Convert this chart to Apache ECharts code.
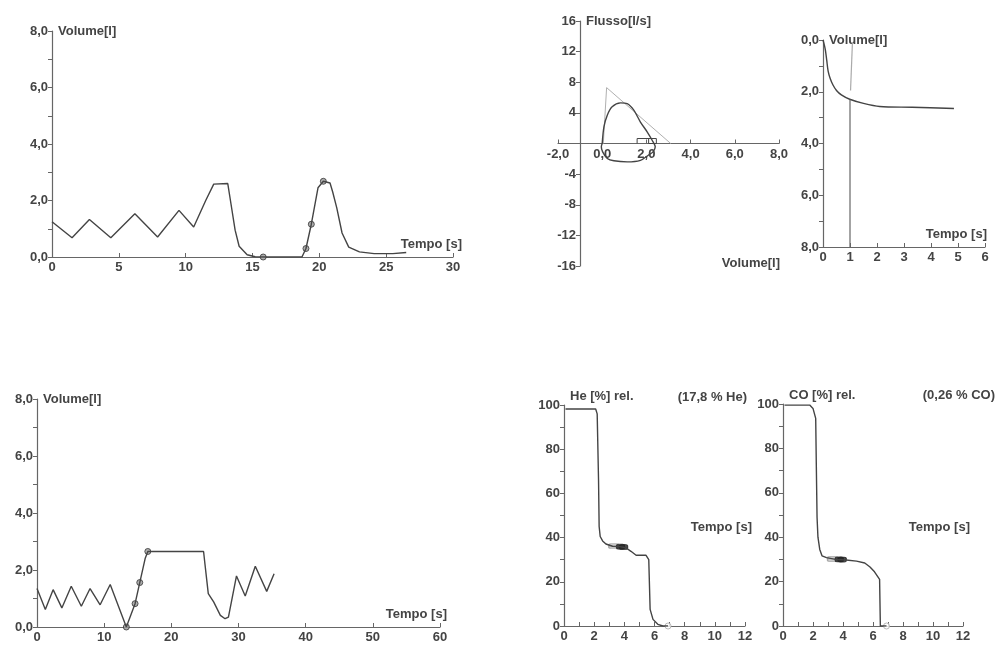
<!DOCTYPE html>
<html>
<head>
<meta charset="utf-8">
<script src="https://cdn.jsdelivr.net/npm/echarts@6/dist/echarts.min.js"></script>
<style>
  html, body { margin: 0; padding: 0; background: #fff; }
  #chart { width: 997px; height: 646px; }
</style>
</head>
<body>
<div id="chart"></div>
<script>
// volume / time, first manoeuvre [s, l]
const volTime1 = [[0, 1.25], [1.5, 0.68], [2.8, 1.33], [4.4, 0.68], [6.2, 1.53], [7.9, 0.71], [9.5, 1.65], [10.6, 1.06],
  [11.5, 2.0], [12.1, 2.58], [13.15, 2.6], [13.35, 2.0], [13.7, 0.95], [14.0, 0.38], [14.6, 0.08], [15.2, 0.01], [15.8, 0],
  [18.7, 0], [19.0, 0.3], [19.4, 1.16], [19.9, 2.45], [20.3, 2.68], [20.8, 2.62], [21.0, 2.3], [21.3, 1.75], [21.7, 0.85],
  [22.2, 0.35], [23.0, 0.18], [24.1, 0.12], [25.5, 0.12], [26.5, 0.16]]
const volMarks1 = [[15.8, 0], [19.0, 0.3], [19.4, 1.16], [20.3, 2.68]]

// flow / volume loop [l, l/s]
const flowPredicted = [[0.05, 0], [0.2, 7.3], [3.1, 0]]
const flowLoop = [[0, 0], [0.08, 2.2], [0.23, 3.7], [0.45, 4.8], [0.83, 5.3], [1.13, 5.2], [1.43, 4.35], [1.73, 2.8],
  [2.04, 1.5], [2.26, 0.43], [2.4, -0.43], [2.3, -1.1], [2.1, -1.5], [1.73, -2.2], [1.13, -2.4], [0.53, -2.26],
  [0.23, -1.96], [0.02, -1.1], [-0.04, -0.43], [0, 0]]
const flowBox = [[1.58, 0], [1.58, 0.65], [2.45, 0.65], [2.45, 0], [2.1, 0], [2.1, 0.65]]

// volume / time, decay after breath-hold [s, l]
const volDecay = [[0, 0], [0.05, 0.2], [0.09, 0.4], [0.14, 0.8], [0.19, 1.2], [0.27, 1.5], [0.37, 1.74], [0.5, 1.95],
  [0.68, 2.12], [0.99, 2.29], [1.5, 2.45], [2.1, 2.57], [3.3, 2.6], [4.85, 2.65]]
const cursorTop = [[1.09, 0.1], [1.02, 1.95]]
const cursorBottom = [[1.0, 2.3], [1.0, 8.0]]

// volume / time, second manoeuvre [s, l]
const volTime2 = [[0, 1.35], [1.24, 0.61], [2.4, 1.31], [3.7, 0.67], [5.1, 1.43], [6.6, 0.73], [7.9, 1.35], [9.4, 0.78],
  [10.9, 1.49], [13.3, 0], [14.6, 0.82], [15.3, 1.56], [16.1, 2.4], [16.5, 2.65], [24.8, 2.65], [25.0, 2.22], [25.5, 1.17],
  [26.3, 0.88], [27.3, 0.41], [28.0, 0.29], [28.5, 0.35], [29.7, 1.79], [31.0, 1.09], [32.5, 2.13], [34.2, 1.25], [35.3, 1.87]]
const volMarks2 = [[13.3, 0], [14.6, 0.82], [15.3, 1.56], [16.5, 2.65]]

// He washout [s, %]
const heCurve = [[0.1, 98.2], [2.1, 98.2], [2.2, 96], [2.29, 66], [2.33, 45], [2.4, 40.5], [2.56, 38.5], [2.78, 37.1],
  [3.22, 36.1], [3.7, 35.9], [4.1, 35.4], [4.44, 33.8], [4.78, 32], [5.44, 32], [5.62, 30], [5.71, 7.5], [5.9, 3],
  [6.22, 0.75], [6.56, 0], [6.9, 0]]
const heMarkLight = [[3.3, 36.2]]
const heMarkDark = [[3.75, 35.9], [3.95, 35.7]]
const heEnd = [[6.9, 0]]

// CO washout [s, %]
const coCurve = [[0.1, 99.5], [1.78, 99.5], [2.0, 98], [2.18, 93.5], [2.22, 73], [2.27, 49], [2.33, 40], [2.45, 34.5],
  [2.6, 31.6], [2.9, 30.8], [3.5, 30], [4.2, 29.7], [4.9, 29.2], [5.45, 28.4], [5.8, 26.6], [6.1, 24.4], [6.44, 21],
  [6.47, 20.5], [6.49, 0], [6.9, 0]]
const coMarkLight = [[3.3, 30.2]]
const coMarkDark = [[3.75, 30.0], [3.95, 29.9]]
const coEnd = [[6.9, 0]]

const ink = '#444'
const axisInk = '#666'
const font = { color: '#444', fontSize: 13, fontWeight: 'bold', fontFamily: 'Liberation Sans, Arial, sans-serif' }
const textFont = 'bold 13px Liberation Sans'
const comma = (v) => v.toFixed(1).replace('.', ',')

function axis(dim, gridIndex, cfg) {
  return {
    type: 'value',
    gridIndex,
    min: cfg.min,
    max: cfg.max,
    interval: cfg.interval,
    inverse: !!cfg.inverse,
    offset: cfg.offset || 0,
    name: cfg.name || '',
    nameLocation: cfg.nameLocation || 'end',
    nameGap: cfg.nameGap || 0,
    nameTextStyle: Object.assign({}, font, cfg.nameStyle),
    axisLine: { show: true, onZero: false, lineStyle: { color: axisInk, width: 1.2 } },
    axisTick: { show: true, inside: dim === 'x', length: 4, lineStyle: { color: axisInk } },
    minorTick: { show: !!cfg.minor, splitNumber: cfg.minor || 2, length: 4, lineStyle: { color: axisInk } },
    splitLine: { show: false },
    axisLabel: Object.assign({}, font, { margin: 4, formatter: cfg.fmt, showMinLabel: true, showMaxLabel: true }),
  }
}

const yName = { align: 'left', verticalAlign: 'middle', padding: [0, 0, 0, 6] }
const xName = { align: 'right', verticalAlign: 'bottom', padding: [0, 0, 6, 0] }
const gasName = { align: 'left', verticalAlign: 'bottom', padding: [0, 0, 0, 6] }

function line(data, idx, extra) {
  return Object.assign({
    type: 'line', xAxisIndex: idx, yAxisIndex: idx, data, symbol: 'none', silent: true,
    lineStyle: { color: ink, width: 1.4 },
  }, extra)
}
function marks(data, idx, extra) {
  return Object.assign({
    type: 'scatter', xAxisIndex: idx, yAxisIndex: idx, data, symbol: 'circle', symbolSize: 6, silent: true,
    itemStyle: { color: '#9a9a9a', borderColor: '#333', borderWidth: 1 },
  }, extra)
}
function note(text, x, y) {
  return { type: 'text', x, y, style: { text, fill: '#444', font: textFont, textAlign: 'right', textVerticalAlign: 'middle' } }
}

const grid = (left, top, width, height) => ({ left, top, width, height, outerBoundsMode: 'none' })

const option = {
  animation: false,
  backgroundColor: '#fff',
  grid: [
    grid(52, 31, 401, 226),
    grid(558, 21, 221, 245),
    grid(823, 40, 162, 207),
    grid(37, 399, 403, 228),
    grid(564, 405, 181, 221),
    grid(783, 404, 180, 222),
  ],
  xAxis: [
    axis('x', 0, { min: 0, max: 30, interval: 5, name: 'Tempo [s]', nameGap: 9, nameStyle: xName }),
    // flow axis crosses at zero flow (middle of the -16..16 range)
    axis('x', 1, { min: -2, max: 8, interval: 2, offset: -122.5, fmt: comma }),
    axis('x', 2, { min: 0, max: 6, interval: 1, name: 'Tempo [s]', nameGap: 2, nameStyle: xName }),
    axis('x', 3, { min: 0, max: 60, interval: 10, name: 'Tempo [s]', nameGap: 7, nameStyle: xName }),
    axis('x', 4, { min: 0, max: 12, interval: 2, minor: 2 }),
    axis('x', 5, { min: 0, max: 12, interval: 2, minor: 2 }),
  ],
  yAxis: [
    axis('y', 0, { min: 0, max: 8, interval: 2, minor: 2, fmt: comma, name: 'Volume[l]', nameStyle: yName }),
    // flow axis sits at volume -1
    axis('y', 1, { min: -16, max: 16, interval: 4, offset: -22, fmt: (v) => (v === 0 ? '' : v), name: 'Flusso[l/s]', nameStyle: yName }),
    axis('y', 2, { min: 0, max: 8, interval: 2, minor: 2, inverse: true, fmt: comma, name: 'Volume[l]', nameLocation: 'start', nameStyle: yName }),
    axis('y', 3, { min: 0, max: 8, interval: 2, minor: 2, fmt: comma, name: 'Volume[l]', nameStyle: yName }),
    axis('y', 4, { min: 0, max: 100, interval: 20, minor: 2, name: 'He [%] rel.', nameGap: 2, nameStyle: gasName }),
    axis('y', 5, { min: 0, max: 100, interval: 20, minor: 2, name: 'CO [%] rel.', nameGap: 2, nameStyle: gasName }),
  ],
  graphic: [
    note('Volume[l]', 780, 263),
    note('(17,8 % He)', 747, 397),
    note('Tempo [s]', 752, 527),
    note('(0,26 % CO)', 995, 395),
    note('Tempo [s]', 970, 527),
  ],
  series: [
    line(volTime1, 0),
    marks(volMarks1, 0),
    line(flowPredicted, 1, { lineStyle: { color: '#b0b0b0', width: 1 } }),
    line(flowLoop, 1, { smooth: 0.3 }),
    line(flowBox, 1, { lineStyle: { color: ink, width: 1 } }),
    line(volDecay, 2, { smooth: 0.3 }),
    line(cursorTop, 2, { lineStyle: { color: '#aaa', width: 1.2 } }),
    line(cursorBottom, 2, { lineStyle: { color: '#666', width: 1.2 } }),
    line(volTime2, 3),
    marks(volMarks2, 3),
    line(heCurve, 4),
    marks(heMarkLight, 4, { symbol: 'roundRect', symbolSize: [10, 5], itemStyle: { color: '#bbb', borderColor: '#999', borderWidth: 1 } }),
    marks(heMarkDark, 4, { symbol: 'roundRect', symbolSize: [8, 5], itemStyle: { color: '#222', borderColor: '#222', borderWidth: 1 } }),
    marks(heEnd, 4, { itemStyle: { color: '#fff', borderColor: '#aaa', borderWidth: 1 } }),
    line(coCurve, 5),
    marks(coMarkLight, 5, { symbol: 'roundRect', symbolSize: [10, 5], itemStyle: { color: '#bbb', borderColor: '#999', borderWidth: 1 } }),
    marks(coMarkDark, 5, { symbol: 'roundRect', symbolSize: [8, 5], itemStyle: { color: '#222', borderColor: '#222', borderWidth: 1 } }),
    marks(coEnd, 5, { itemStyle: { color: '#fff', borderColor: '#aaa', borderWidth: 1 } }),
  ],
}

const chart = echarts.init(document.getElementById('chart'))
chart.setOption(option)
</script>
</body>
</html>
